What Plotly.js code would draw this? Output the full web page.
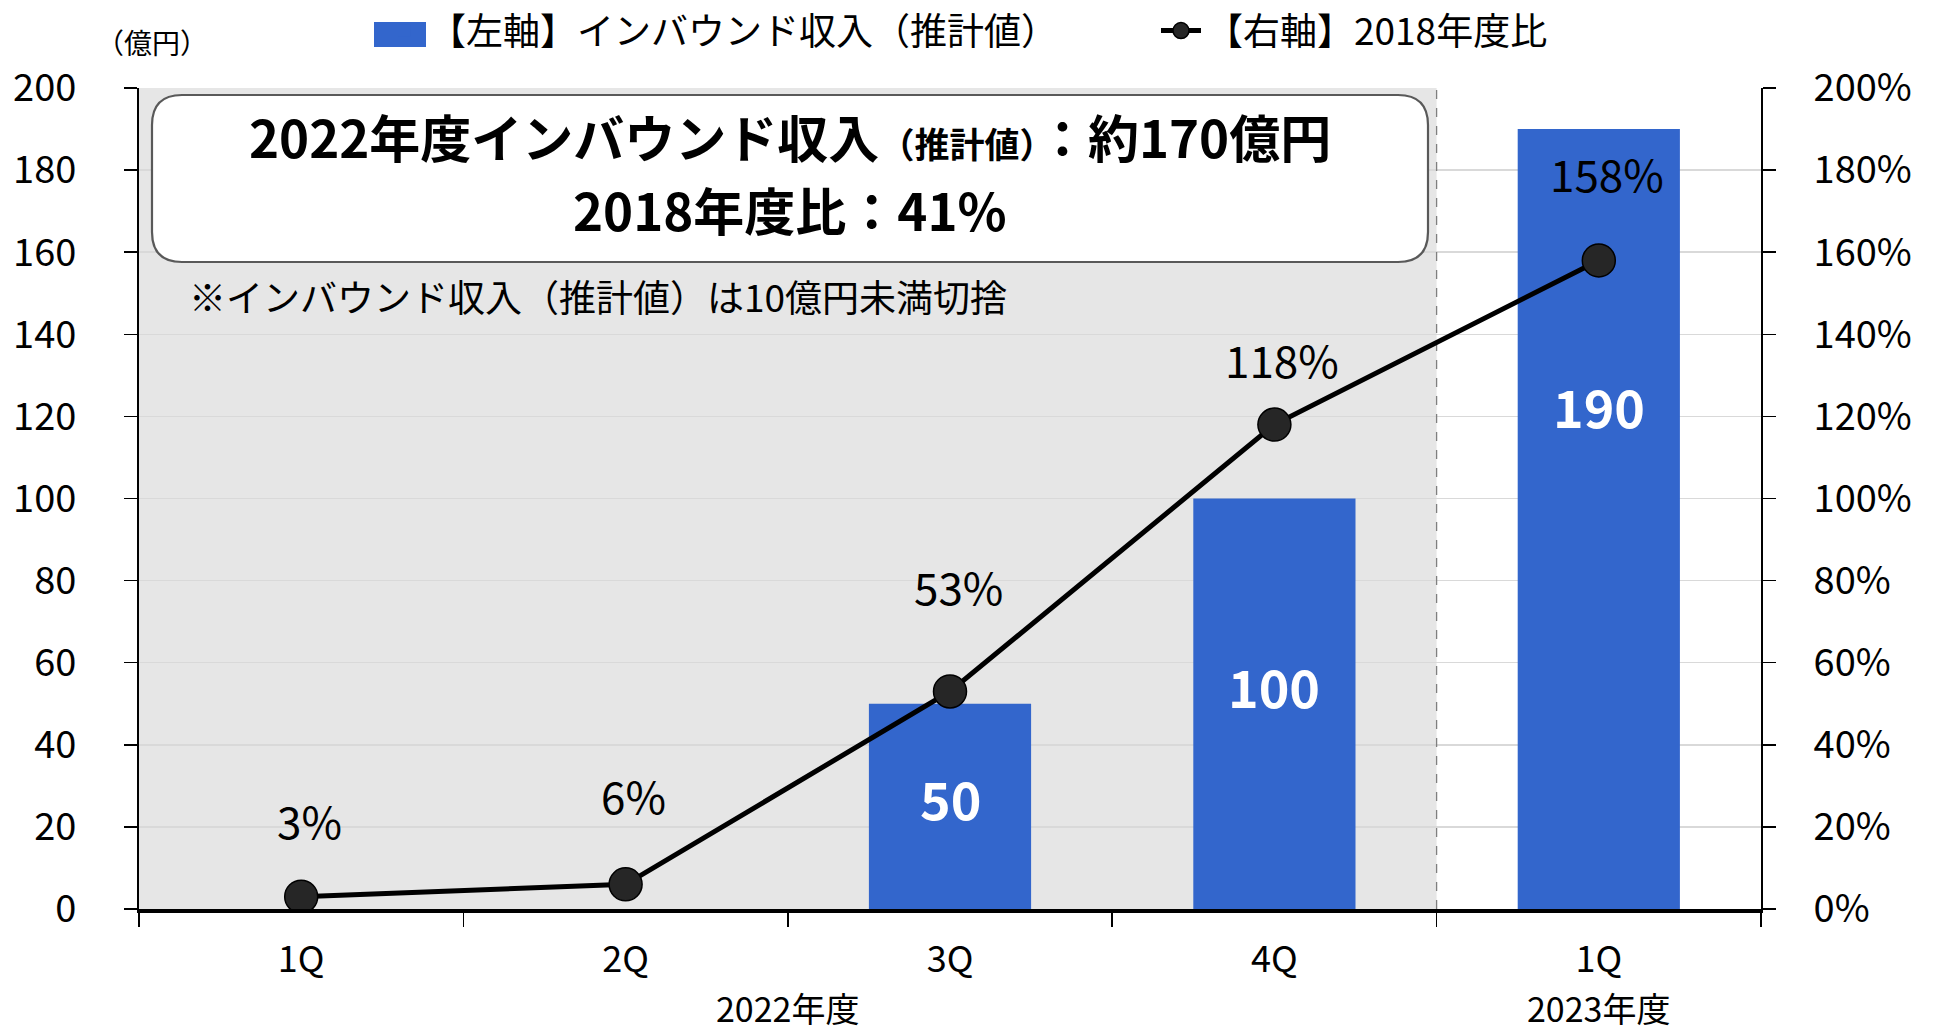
<!DOCTYPE html>
<html>
<head>
<meta charset="utf-8">
<script src="https://cdn.plot.ly/plotly-3.0.1.min.js"></script>
<style>html,body{margin:0;padding:0;background:#fff;}#chart{width:1934px;height:1034px;}</style>
</head>
<body>
<div id="chart"></div>
<script>
// ---- data ----
const quarters = ['1Q', '2Q', '3Q', '4Q', '1Q'];
const fiscalYears = ['2022年度', '2022年度', '2022年度', '2022年度', '2023年度'];
const revenue = [0, 0, 50, 100, 190];          // インバウンド収入（推計値）, 億円
const ratio2018 = [3, 6, 53, 118, 158];         // 2018年度比, %
const seriesNames = ['【左軸】インバウンド収入（推計値）', '【右軸】2018年度比'];
const yTitle = '（億円）';
const boxLine1 = '2022年度インバウンド収入';
const boxLine1Small = '（推計値）';
const boxLine1End = '：約170億円';
const boxLine2 = '2018年度比：41%';
const note = '※インバウンド収入（推計値）は10億円未満切捨';
const shadedYear = '2022年度';

// ---- styles ----
const FONT = '"Noto Sans CJK JP", "Noto Sans", sans-serif';
const BLUE = '#3366CC';
const barLabelShift = [0, 0, -94, -187, -276];
const pctLabelShift = [77, 89, 105, 66, 87];

const idx = quarters.map((_, i) => i);

const traces = [
  {
    type: 'bar', name: seriesNames[0], x: idx, y: revenue, legend: 'legend',
    marker: {color: BLUE}, width: 0.5, yaxis: 'y', hoverinfo: 'skip'
  },
  {
    type: 'scatter', mode: 'lines+markers', name: seriesNames[1], x: idx, y: ratio2018,
    yaxis: 'y2', legend: 'legend2', line: {color: '#000', width: 5},
    marker: {size: 33, color: '#262626', line: {color: '#000', width: 1.5}},
    hoverinfo: 'skip'
  }
];

const annotations = [];
idx.forEach(i => {
  if (revenue[i] > 0) {
    annotations.push({x: i, y: revenue[i], xref: 'x', yref: 'y', text: '<b>' + revenue[i] + '</b>',
      showarrow: false, yshift: barLabelShift[i], yanchor: 'middle',
      font: {family: FONT, size: 52, color: '#fff'}});
  }
  annotations.push({x: i, y: ratio2018[i], xref: 'x', yref: 'y2', text: ratio2018[i] + '%',
    showarrow: false, yshift: pctLabelShift[i], xshift: 8, yanchor: 'middle',
    font: {family: FONT, size: 44, color: '#000'}});
});

// fiscal-year group labels under the quarter labels
const uniqueYears = [...new Set(fiscalYears)];
uniqueYears.forEach(yr => {
  const members = idx.filter(i => fiscalYears[i] === yr);
  const cx = members.reduce((a, b) => a + b, 0) / members.length;
  annotations.push({x: cx, y: 0, xref: 'x', yref: 'paper', text: yr, showarrow: false,
    yshift: -98, yanchor: 'middle', font: {family: FONT, size: 34, color: '#000'}});
});

// axis unit label
annotations.push({x: 0.008, y: 1.056, xref: 'paper', yref: 'paper', text: yTitle, showarrow: false,
  xanchor: 'center', yanchor: 'middle', font: {family: FONT, size: 28, color: '#000'}});

// headline box text
annotations.push({x: 0.4014, y: 0.9415, xref: 'paper', yref: 'paper',
  text: '<b>' + boxLine1 + '<span style="font-size:35px">' + boxLine1Small + '</span>' + boxLine1End + '</b>',
  showarrow: false, xanchor: 'center', yanchor: 'middle', font: {family: FONT, size: 51, color: '#000'}});
annotations.push({x: 0.4014, y: 0.8526, xref: 'paper', yref: 'paper', text: '<b>' + boxLine2 + '</b>',
  showarrow: false, xanchor: 'center', yanchor: 'middle', font: {family: FONT, size: 51, color: '#000'}});
annotations.push({x: 0.0296, y: 0.7466, xref: 'paper', yref: 'paper', text: note,
  showarrow: false, xanchor: 'left', yanchor: 'middle', font: {family: FONT, size: 37, color: '#000'}});

// rounded box path (paper coords)
function roundedRect(x0, y0, x1, y1, rx, ry) {
  return `M${x0 + rx},${y0} L${x1 - rx},${y0} Q${x1},${y0} ${x1},${y0 + ry} ` +
         `L${x1},${y1 - ry} Q${x1},${y1} ${x1 - rx},${y1} L${x0 + rx},${y1} ` +
         `Q${x0},${y1} ${x0},${y1 - ry} L${x0},${y0 + ry} Q${x0},${y0} ${x0 + rx},${y0} Z`;
}
const PW = 1622, PH = 821;
const bx0 = 13 / PW, bx1 = 1289 / PW, by0 = (909 - 262) / PH, by1 = (909 - 95) / PH;

const shadedIdx = idx.filter(i => fiscalYears[i] === shadedYear);
const shadeX0 = Math.min(...shadedIdx) - 0.5, shadeX1 = Math.max(...shadedIdx) + 0.5;

const shapes = [
  {type: 'rect', xref: 'x', yref: 'y', x0: shadeX0, x1: shadeX1, y0: 0, y1: 200,
    fillcolor: '#e6e6e6', line: {width: 0}, layer: 'below'},
  {type: 'line', xref: 'x', yref: 'y', x0: shadeX1, x1: shadeX1, y0: 0, y1: 200,
    line: {color: '#7f7f7f', width: 1.3, dash: 'dash'}, layer: 'between'},
  {type: 'path', xref: 'paper', yref: 'paper', path: roundedRect(bx0, by0, bx1, by1, 30 / PW, 30 / PH),
    fillcolor: '#ffffff', line: {color: '#595959', width: 2.2}, layer: 'above'},
  // enlarged legend swatch for the bar series (Excel-style wide swatch)
  {type: 'rect', xref: 'paper', yref: 'paper', x0: (374 - 139) / PW, x1: (426 - 139) / PW,
    y0: (909 - 47) / PH, y1: (909 - 22) / PH, fillcolor: BLUE, line: {width: 0}, layer: 'above'}
];

const legendBase = {orientation: 'h', xanchor: 'left', y: 1.0694, yanchor: 'middle',
  font: {family: FONT, size: 37, color: '#000'}, itemwidth: 40, bgcolor: 'rgba(0,0,0,0)'};

const layout = {
  width: 1934, height: 1034,
  margin: {l: 139, r: 173, t: 88, b: 125, autoexpand: false},
  paper_bgcolor: '#fff', plot_bgcolor: 'rgba(0,0,0,0)',
  font: {family: FONT, size: 37, color: '#000'},
  showlegend: true,
  legend: Object.assign({}, legendBase, {x: 0.148}),
  legend2: Object.assign({}, legendBase, {x: 0.627}),
  xaxis: {
    range: [-0.5, quarters.length - 0.5], tickmode: 'array', tickvals: idx, ticktext: quarters,
    ticks: '', showgrid: false, zeroline: false, showline: true, linecolor: '#000', linewidth: 4,
    tickfont: {family: FONT, size: 36}, ticklabelstandoff: 16,
    minor: {tick0: -0.5, dtick: 1, ticks: 'outside', ticklen: 14, tickwidth: 1.5, tickcolor: '#000', showgrid: false},
    fixedrange: true
  },
  yaxis: {
    range: [0, 200], dtick: 20, ticks: 'outside', ticklen: 13, tickwidth: 1.5, tickcolor: '#000',
    showline: true, linecolor: '#000', linewidth: 2, showgrid: true, gridcolor: '#d9d9d9', gridwidth: 1.5,
    zeroline: false, tickfont: {family: FONT, size: 38}, ticklabelstandoff: 40, fixedrange: true
  },
  yaxis2: {
    range: [0, 200], dtick: 20, overlaying: 'y', side: 'right', ticksuffix: '%',
    ticks: 'outside', ticklen: 13, tickwidth: 1.5, tickcolor: '#000',
    showline: true, linecolor: '#000', linewidth: 2, showgrid: false, zeroline: false,
    tickfont: {family: FONT, size: 38}, ticklabelstandoff: 30, fixedrange: true
  },
  shapes: shapes,
  annotations: annotations
};

Plotly.newPlot('chart', traces, layout, {displayModeBar: false, staticPlot: true});
</script>
</body>
</html>
